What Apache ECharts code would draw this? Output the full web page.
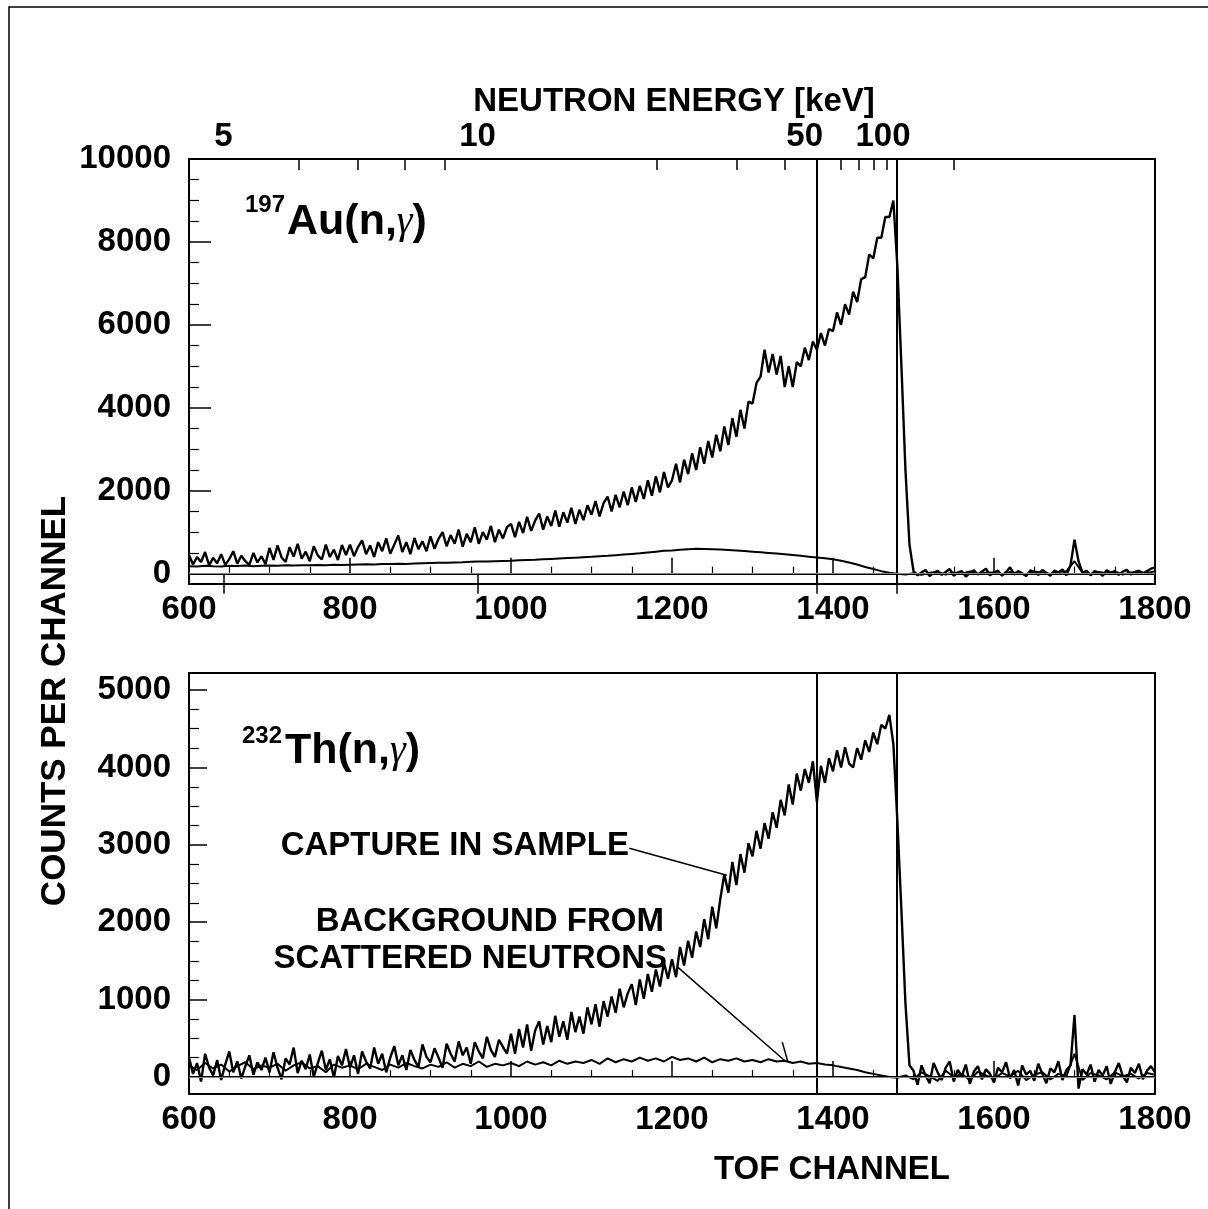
<!DOCTYPE html>
<html>
<head>
<meta charset="utf-8">
<script src="https://cdn.jsdelivr.net/npm/echarts@6/dist/echarts.min.js"></script>
<style>
html,body{margin:0;padding:0;background:#fff;}
#c{width:1208px;height:1209px;}
</style>
</head>
<body>
<div id="c"></div>
<script>
// ---------------- DATA ----------------
const CH_START = 600;
const CAP_STEP = 5;    // channel spacing of capture arrays
const BKG_STEP = 10;   // channel spacing of background arrays

// 197Au(n,gamma) capture, channels 600..1800 step 5
const auCapture = [
 450,220,400,280,520,200,380,250,470,210,350,540,240,430,300,210,500,270,420,230,
 620,330,680,390,280,640,410,720,360,530,300,660,440,340,700,400,580,330,690,450,
 700,420,640,800,470,680,400,760,540,850,480,700,920,520,760,470,860,590,780,540,
 900,600,840,1000,660,930,720,1060,650,960,760,1120,720,1000,820,1150,760,1060,850,1120,
 1200,880,1250,980,1370,1030,1280,1450,1060,1380,1150,1520,1130,1480,1230,1590,1200,1540,1290,1650,
 1420,1750,1380,1700,1860,1500,1900,1600,1980,1650,2080,1730,2120,1800,2250,1880,2350,1960,2450,2080,
 2250,2650,2200,2750,2400,2900,2500,3050,2650,3200,2800,3350,2950,3550,3100,3750,3300,3950,3500,4150,
 4100,4600,4750,5400,4850,5300,4800,5250,4500,5000,4500,5100,5000,5450,5150,5600,5400,5800,5500,5900,
 5850,6300,6000,6500,6250,6800,6550,7100,7150,7700,7600,8100,8100,8600,8600,9000,7400,5000,2500,700,
 60,-40,30,90,-60,20,70,-30,40,110,-50,30,60,-70,20,80,-20,50,120,-40,
 30,70,-50,40,150,-20,60,10,-60,80,40,-30,90,20,-50,70,30,100,-40,200,
 820,300,20,70,-40,60,30,-50,80,20,60,-30,50,90,-20,40,70,10,60,120,
 150
];
// 197Au background, channels 600..1800 step 10
const auBackground = [
 180,170,190,180,175,190,185,195,180,190,
 195,190,200,195,205,200,210,200,215,210,
 215,220,225,220,230,235,240,235,245,250,
 255,260,265,270,275,285,290,295,300,305,
 310,320,330,335,345,355,365,375,385,395,
 405,420,430,445,460,475,490,510,530,550,
 560,575,590,600,595,590,580,570,560,545,
 530,515,500,485,470,450,430,410,390,370,
 345,310,270,220,160,110,60,20,0,-20,
 10,-30,20,40,-20,30,0,50,-10,20,
 30,-20,40,10,-30,50,20,-10,40,60,
 300,20,-10,40,10,50,-20,30,40,10,
 60
];
// 232Th(n,gamma) capture, channels 600..1800 step 5
const thCapture = [
 250,40,180,-60,300,120,20,220,-40,160,330,60,200,-20,140,280,30,190,90,250,
 60,320,120,-30,240,160,380,50,210,100,290,0,180,340,90,230,-10,270,150,360,
 120,280,40,330,200,110,380,170,300,60,250,400,150,280,90,350,220,130,420,260,
 190,370,250,120,430,300,200,460,280,380,170,450,330,240,520,350,260,480,390,300,
 560,300,620,380,680,340,600,720,420,660,450,790,520,720,480,840,580,780,560,900,
 680,940,650,980,780,1040,830,1140,900,1080,1200,930,1260,1010,1330,1100,1390,1170,1480,1270,
 1520,1290,1680,1440,1760,1540,1880,1680,2040,1780,2200,1920,2300,2620,2380,2780,2480,2880,2640,3020,
 2850,3180,2950,3280,3080,3420,3220,3580,3380,3780,3520,3920,3700,3980,3800,4080,3550,4020,3800,4120,
 3950,4220,4000,4260,4050,4000,4250,4100,4350,4200,4450,4300,4550,4500,4680,4300,3300,2150,950,150,
 80,-100,150,20,-80,180,60,-40,120,200,-60,90,10,160,-90,70,140,-30,100,40,
 -70,120,60,190,-20,90,-110,150,30,80,-50,170,40,-80,110,60,200,-40,90,150,
 800,-150,100,30,160,-60,90,20,140,-90,60,180,10,-70,120,50,170,-30,80,140,
 60
];
// 232Th background, channels 600..1800 step 10
const thBackground = [
 150,90,180,110,160,70,140,190,100,150,
 120,170,80,150,190,110,140,60,160,120,
 150,100,170,130,90,160,120,180,140,110,
 160,130,190,120,170,140,200,130,170,150,
 180,140,200,160,190,150,210,170,200,180,
 220,170,240,190,230,200,250,210,240,200,
 260,220,240,200,250,190,230,210,240,200,
 220,190,230,200,210,180,200,170,180,160,
 150,130,110,90,60,40,20,0,-10,20,
 -30,60,10,-50,80,0,40,-40,70,20,
 -20,50,10,80,-40,30,60,-30,40,10,
 300,-40,50,20,-30,60,10,40,-20,50,
 30
];

// Axis ticks
const tofTicks = [600, 800, 1000, 1200, 1400, 1600, 1800];
const auMajorY = [0, 2000, 4000, 6000, 8000, 10000];
const auMinorY = [500,1000,1500,2500,3000,3500,4500,5000,5500,6500,7000,7500,8500,9000,9500];
const thMajorY = [0, 1000, 2000, 3000, 4000, 5000];
const thMinorY = [250,500,750,1250,1500,1750,2250,2500,2750,3250,3500,3750,4250,4500,4750,5250];
const energyMajor = [5, 10, 50, 100];           // keV, labelled
const energyMinor = [6, 7, 8, 9, 20, 30, 40, 60, 70, 80, 90, 200];
const energyLines = [50, 100];                  // keV, vertical lines
// TOF channel <-> neutron energy calibration (read from the top axis)
const CAL_T0 = 1720.5, CAL_C = 2410;
const chOf = e => CAL_T0 - CAL_C / Math.sqrt(e);
const eOf = ch => Math.round(Math.pow(CAL_C / (CAL_T0 - ch), 2));

// Annotation leader lines (data coordinates in the lower panel)
const captureLeader = [[1147, 2955], [1268, 2606]];
const bkgLeader = [[1207, 1420], [1342, 194]];
const bkgLeaderTick = [[1337, 450], [1344, 194]];

// ---------------- CHART ----------------
const FONT = '"Liberation Sans", Arial, Helvetica, sans-serif';
const FS = 33;
const toPairs = (arr, step) => arr.map((v, i) => [CH_START + i * step, v]);

const labelStyle = { fontFamily: FONT, fontWeight: 'bold', fontSize: FS, color: '#000' };
const black = { color: '#000', width: 2 };

function tofAxis(gridIndex) {
  return {
    gridIndex, type: 'value', position: 'bottom', min: 600, max: 1800, interval: 200,
    axisLine: { show: true, lineStyle: black },
    axisTick: { show: true, inside: true, length: 16, lineStyle: { color: '#000', width: 1.5 } },
    minorTick: { show: true, splitNumber: 4, length: 7, lineStyle: { color: '#000', width: 1.2 } },
    axisLabel: Object.assign({ margin: 9, showMinLabel: true, showMaxLabel: true, formatter: v => String(v) }, labelStyle),
    splitLine: { show: false }, minorSplitLine: { show: false }
  };
}
function yMajor(gridIndex, min, max, vals, len) {
  return {
    gridIndex, type: 'value', position: 'left', min, max,
    axisLine: { show: true, lineStyle: black },
    axisTick: { show: true, inside: true, length: len, customValues: vals, lineStyle: { color: '#000', width: 1.5 } },
    axisLabel: Object.assign({ margin: 18, customValues: vals, formatter: v => String(v) }, labelStyle),
    splitLine: { show: false }
  };
}
function yMinor(gridIndex, min, max, vals) {
  return {
    gridIndex, type: 'value', position: 'left', min, max,
    axisLine: { show: false },
    axisTick: { show: true, inside: true, length: 10, customValues: vals, lineStyle: { color: '#000', width: 1.2 } },
    axisLabel: { show: false },
    splitLine: { show: false }
  };
}
// energy label: 50 and 100 are set slightly left of their ticks, as in the original
function energyLabel(v) {
  const e = eOf(v);
  if (e === 50) return '{s50|50}';
  if (e === 100) return '{s100|100}';
  return '{n|' + e + '}';
}
const eRich = {
  n: { fontFamily: FONT, fontWeight: 'bold', fontSize: FS, color: '#000' },
  s50: { fontFamily: FONT, fontWeight: 'bold', fontSize: FS, color: '#000', padding: [0, 24, 0, 0] },
  s100: { fontFamily: FONT, fontWeight: 'bold', fontSize: FS, color: '#000', padding: [0, 28, 0, 0] }
};

const vLines = energyLines.map(e => ({ xAxis: chOf(e) }));
const zeroLine = { yAxis: 0, lineStyle: { color: '#888', width: 1, type: 'solid' } };

const option = {
  animation: false,
  backgroundColor: '#fff',
  grid: [
    { left: 189, right: 53, top: 159, height: 425, show: true, borderColor: '#000', borderWidth: 2, backgroundColor: 'transparent' },
    { left: 189, right: 53, top: 673, height: 421, show: true, borderColor: '#000', borderWidth: 2, backgroundColor: 'transparent' }
  ],
  xAxis: [
    tofAxis(0),
    {
      gridIndex: 0, type: 'value', position: 'top', min: 600, max: 1800,
      axisLine: { show: true, lineStyle: black },
      axisTick: { show: true, inside: true, length: 20, customValues: energyMajor.map(chOf), lineStyle: { color: '#000', width: 1.5 } },
      axisLabel: { margin: 6, customValues: energyMajor.map(chOf), formatter: energyLabel, rich: eRich },
      splitLine: { show: false }
    },
    {
      gridIndex: 0, type: 'value', position: 'top', min: 600, max: 1800,
      axisLine: { show: false },
      axisTick: { show: true, inside: true, length: 11, customValues: energyMinor.map(chOf), lineStyle: { color: '#000', width: 1.5 } },
      axisLabel: { show: false },
      splitLine: { show: false }
    },
    tofAxis(1)
  ],
  yAxis: [
    yMajor(0, -250, 10000, auMajorY, 22),
    yMinor(0, -250, 10000, auMinorY),
    yMajor(1, -220, 5220, thMajorY, 18),
    yMinor(1, -220, 5220, thMinorY)
  ],
  series: [
    {
      name: 'Au capture', type: 'line', xAxisIndex: 0, yAxisIndex: 0, symbol: 'none',
      data: toPairs(auCapture, CAP_STEP), lineStyle: { color: '#000', width: 2.4 },
      markLine: { silent: true, symbol: 'none', label: { show: false },
        lineStyle: { color: '#000', width: 2, type: 'solid' },
        data: vLines.concat([zeroLine]) }
    },
    {
      name: 'Au background', type: 'line', xAxisIndex: 0, yAxisIndex: 0, symbol: 'none',
      data: toPairs(auBackground, BKG_STEP), lineStyle: { color: '#000', width: 2 }
    },
    {
      name: 'Th capture', type: 'line', xAxisIndex: 3, yAxisIndex: 2, symbol: 'none',
      data: toPairs(thCapture, CAP_STEP), lineStyle: { color: '#000', width: 2.4 },
      markLine: { silent: true, symbol: 'none', label: { show: false },
        lineStyle: { color: '#000', width: 2, type: 'solid' },
        data: vLines.concat([zeroLine]) }
    },
    {
      name: 'Th background', type: 'line', xAxisIndex: 3, yAxisIndex: 2, symbol: 'none',
      data: toPairs(thBackground, BKG_STEP), lineStyle: { color: '#000', width: 2 },
      markLine: { silent: true, symbol: 'none', label: { show: false },
        lineStyle: { color: '#000', width: 1.5, type: 'solid' },
        data: [captureLeader, bkgLeader, bkgLeaderTick].map(seg => [{ coord: seg[0] }, { coord: seg[1] }]) }
    }
  ],
  graphic: [
    { type: 'rect', silent: true, z: 0, shape: { x: 9, y: 7, width: 1400, height: 1400 },
      style: { fill: 'none', stroke: '#000', lineWidth: 1.5 } },
    { type: 'text', x: 674, y: 102, style: { text: 'NEUTRON ENERGY [keV]', font: 'bold 33px ' + FONT, fill: '#000', textAlign: 'center', textVerticalAlign: 'middle' } },
    { type: 'text', x: 832, y: 1170, style: { text: 'TOF CHANNEL', font: 'bold 33px ' + FONT, fill: '#000', textAlign: 'center', textVerticalAlign: 'middle' } },
    { type: 'text', x: 55, y: 701, rotation: Math.PI / 2, style: { text: 'COUNTS PER CHANNEL', font: 'bold 35px ' + FONT, fill: '#000', textAlign: 'center', textVerticalAlign: 'middle' } },
    // 197Au(n,γ)
    { type: 'text', x: 245, y: 205, style: { text: '197', font: 'bold 24px ' + FONT, fill: '#000', textAlign: 'left', textVerticalAlign: 'middle' } },
    { type: 'text', x: 287, y: 222, style: {
        text: '{a|Au(n,}{g|γ}{a|)}', textAlign: 'left', textVerticalAlign: 'middle',
        rich: { a: { font: 'bold 43px ' + FONT, fill: '#000' }, g: { font: 'italic 40px "Liberation Serif", serif', fill: '#000' } } } },
    // 232Th(n,γ)
    { type: 'text', x: 242, y: 736, style: { text: '232', font: 'bold 24px ' + FONT, fill: '#000', textAlign: 'left', textVerticalAlign: 'middle' } },
    { type: 'text', x: 285, y: 751, style: {
        text: '{a|Th(n,}{g|γ}{a|)}', textAlign: 'left', textVerticalAlign: 'middle',
        rich: { a: { font: 'bold 43px ' + FONT, fill: '#000' }, g: { font: 'italic 40px "Liberation Serif", serif', fill: '#000' } } } },
    // annotations
    { type: 'text', x: 629, y: 846, style: { text: 'CAPTURE IN SAMPLE', font: 'bold 33px ' + FONT, fill: '#000', textAlign: 'right', textVerticalAlign: 'middle' } },
    { type: 'text', x: 664, y: 922, style: { text: 'BACKGROUND FROM', font: 'bold 33px ' + FONT, fill: '#000', textAlign: 'right', textVerticalAlign: 'middle' } },
    { type: 'text', x: 667, y: 959, style: { text: 'SCATTERED NEUTRONS', font: 'bold 33px ' + FONT, fill: '#000', textAlign: 'right', textVerticalAlign: 'middle' } }
  ]
};

const chart = echarts.init(document.getElementById('c'), null, { renderer: 'canvas' });
chart.setOption(option);
</script>
</body>
</html>
